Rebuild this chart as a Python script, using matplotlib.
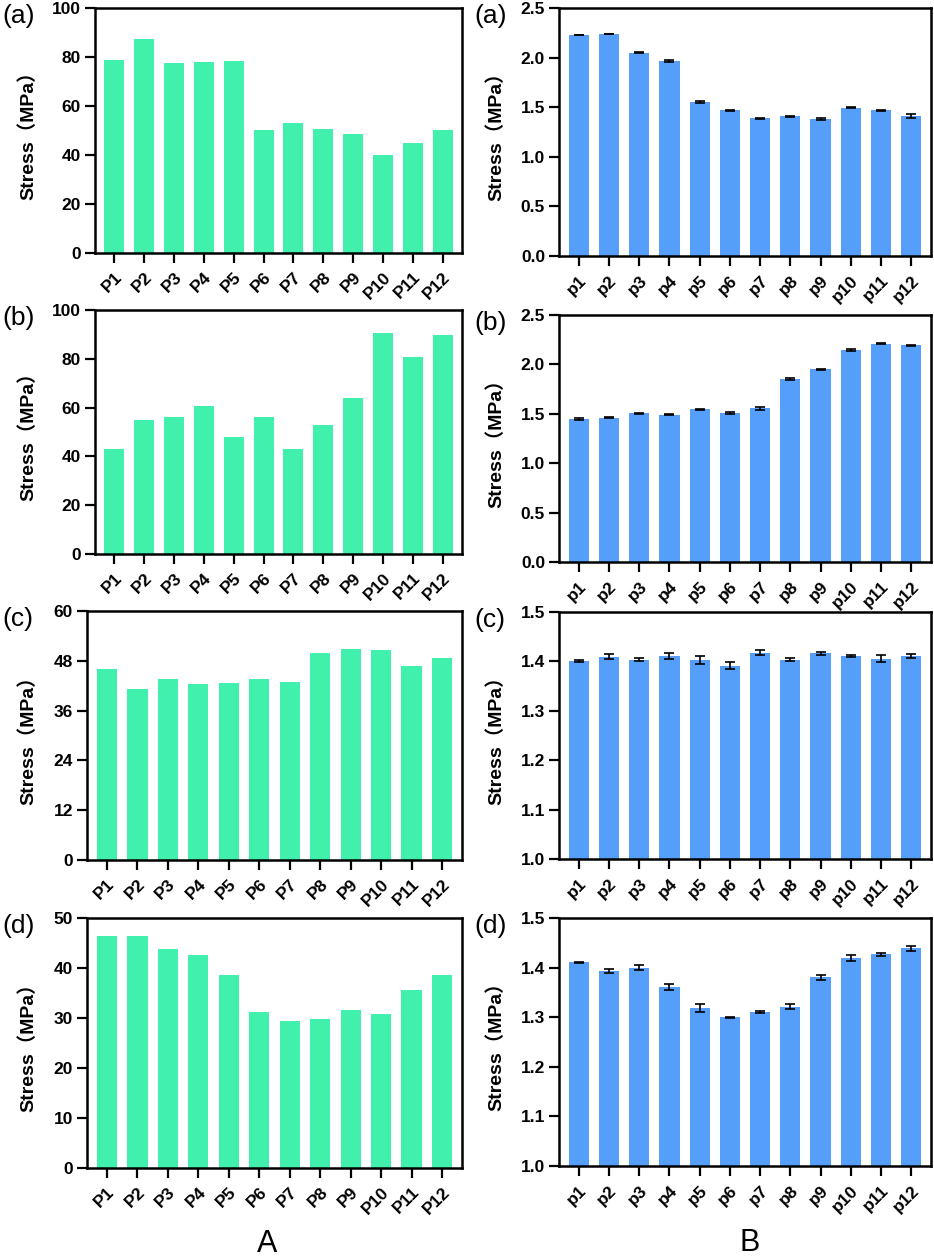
import matplotlib
matplotlib.use("Agg")
import matplotlib.pyplot as plt
import numpy as np

plt.rcParams['font.family'] = ['Liberation Sans', 'Noto Sans CJK SC', 'DejaVu Sans']

# ---- data ----
cats_a = ['P1', 'P2', 'P3', 'P4', 'P5', 'P6', 'P7', 'P8', 'P9', 'P10', 'P11', 'P12']
cats_b = ['p1', 'p2', 'p3', 'p4', 'p5', 'p6', 'p7', 'p8', 'p9', 'p10', 'p11', 'p12']

left_a = [78.7, 87.5, 77.6, 78.0, 78.5, 50.4, 53.0, 50.7, 48.5, 40.1, 45.1, 50.4]
left_b = [43.2, 54.8, 56.1, 60.8, 47.9, 56.2, 43.2, 52.8, 64.1, 90.6, 80.9, 89.9]
left_c = [46.0, 41.2, 43.5, 42.5, 42.7, 43.7, 43.0, 49.9, 50.8, 50.6, 46.7, 48.7]
left_d = [46.4, 46.4, 43.9, 42.6, 38.7, 31.2, 29.4, 29.9, 31.6, 30.8, 35.6, 38.7]

right_a = [2.228, 2.238, 2.050, 1.966, 1.552, 1.468, 1.387, 1.411, 1.378, 1.495, 1.471, 1.414]
right_a_err = [0.004, 0.004, 0.005, 0.012, 0.006, 0.006, 0.005, 0.005, 0.012, 0.005, 0.005, 0.018]
right_b = [1.450, 1.461, 1.505, 1.491, 1.545, 1.508, 1.555, 1.852, 1.950, 2.146, 2.210, 2.193]
right_b_err = [0.010, 0.006, 0.006, 0.006, 0.008, 0.006, 0.012, 0.006, 0.006, 0.006, 0.005, 0.005]
right_c = [1.400, 1.409, 1.403, 1.410, 1.403, 1.391, 1.418, 1.403, 1.416, 1.410, 1.405, 1.410]
right_c_err = [0.002, 0.005, 0.003, 0.006, 0.008, 0.007, 0.005, 0.003, 0.003, 0.002, 0.007, 0.004]
right_d = [1.411, 1.393, 1.400, 1.361, 1.319, 1.300, 1.310, 1.321, 1.381, 1.420, 1.427, 1.439]
right_d_err = [0.001, 0.004, 0.005, 0.006, 0.008, 0.001, 0.002, 0.005, 0.005, 0.006, 0.003, 0.005]

GREEN = '#40F0AC'
BLUE = '#559FFA'

W, H = 934, 1257
fig = plt.figure(figsize=(W / 100, H / 100), dpi=100)


def make_ax(l, r, t, b):
    return fig.add_axes([l / W, 1 - b / H, (r - l) / W, (b - t) / H])


def style(ax, cats, yl, yt, fmt, lbl, l, r, t, lab_x, lab_x_fig):
    ax.set_xlim(-0.65, len(cats) - 0.35)
    ax.set_ylim(*yl)
    ax.set_yticks(yt)
    ax.set_yticklabels([fmt.format(v) for v in yt], fontweight='bold', fontsize=12.5)
    ax.set_xticks(np.arange(len(cats)))
    ax.set_xticklabels(cats, rotation=45, ha='right', rotation_mode='anchor',
                       fontweight='bold', fontsize=12.5)
    for s in ax.spines.values():
        s.set_linewidth(1.8)
    ax.tick_params(axis='both', direction='out', length=7, width=1.6, pad=3)
    ax.tick_params(axis='x', pad=5)
    ax.set_ylabel('Stress（MPa）', fontweight='bold', fontsize=14)
    ax.yaxis.set_label_coords((lab_x - l) / (r - l), 0.5)
    fig.text(lab_x_fig / W, 1 - (t + 8) / H, lbl, fontsize=19, ha='left', va='center')


# left column
boxes_left = [(95, 462, 8, 253), (95, 462, 310, 554), (87, 462, 611, 860), (87, 462, 918, 1168)]
left_vals = [left_a, left_b, left_c, left_d]
left_lims = [(0, 100), (0, 100), (0, 60), (0, 50)]
left_ticks = [[0, 20, 40, 60, 80, 100], [0, 20, 40, 60, 80, 100],
              [0, 12, 24, 36, 48, 60], [0, 10, 20, 30, 40, 50]]
labels = ['(a)', '(b)', '(c)', '(d)']

for box, vals, lim, tk, lb in zip(boxes_left, left_vals, left_lims, left_ticks, labels):
    ax = make_ax(*box)
    ax.bar(np.arange(len(cats_a)), vals, width=0.67, color=GREEN, zorder=2)
    style(ax, cats_a, lim, tk, '{:d}', lb, box[0], box[1], box[2], 37, 2)

# right column
boxes_right = [(559, 931, 8, 256), (559, 931, 315, 562), (559, 931, 612, 859), (559, 931, 918, 1166)]
right_vals = [right_a, right_b, right_c, right_d]
right_errs = [right_a_err, right_b_err, right_c_err, right_d_err]
right_lims = [(0, 2.5), (0, 2.5), (1.0, 1.5), (1.0, 1.5)]
right_ticks = [[0.0, 0.5, 1.0, 1.5, 2.0, 2.5], [0.0, 0.5, 1.0, 1.5, 2.0, 2.5],
               [1.0, 1.1, 1.2, 1.3, 1.4, 1.5], [1.0, 1.1, 1.2, 1.3, 1.4, 1.5]]

for box, vals, err, lim, tk, lb in zip(boxes_right, right_vals, right_errs, right_lims, right_ticks, labels):
    ax = make_ax(*box)
    x = np.arange(len(cats_b))
    ax.bar(x, vals, width=0.67, color=BLUE, zorder=2)
    ax.errorbar(x, vals, yerr=err, fmt='none', ecolor='black', elinewidth=1.2,
                capsize=3.5, capthick=1.2, zorder=3)
    style(ax, cats_b, lim, tk, '{:.1f}', lb, box[0], box[1], box[2], 505, 474)

fig.text(267 / W, 1 - 1244 / H, 'A', fontsize=22, ha='center', va='center')
fig.text(750 / W, 1 - 1243 / H, 'B', fontsize=22, ha='center', va='center')

fig.savefig('out.png', dpi=100)
